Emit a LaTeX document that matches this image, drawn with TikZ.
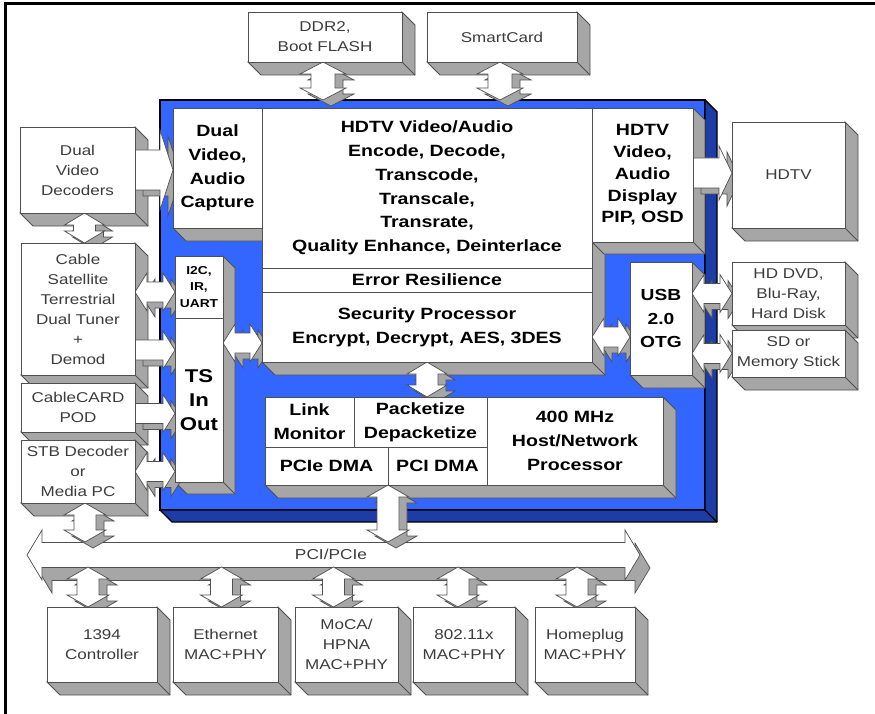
\documentclass[tikz,border=0pt]{standalone}
\usepackage{fontspec}
\setmainfont{Liberation Sans}[FakeStretch=1.2]
\usetikzlibrary{calc}

\definecolor{chipblue}{RGB}{51,102,255}
\definecolor{chipdark}{RGB}{30,60,165}
\definecolor{sidegray}{RGB}{166,166,166}
\definecolor{edgegray}{RGB}{80,80,80}
\definecolor{txtgray}{RGB}{60,60,60}

\pgfdeclarelayer{chipl}
\pgfdeclarelayer{extrl}
\pgfdeclarelayer{arrl}
\pgfsetlayers{chipl,extrl,arrl,main}

% depth faces of a block: [style]{NE corner}{SW corner}{depth}
\newcommand\extrude[4][side]{%
  \filldraw[#1] (#2) -- ++(#4,#4) -- ($(#2 |- #3)+(#4,#4)$) -- ($(#3)+(#4,#4)$)
    -- (#3) -- (#2 |- #3) -- cycle;
  \draw[#1, fill=none] (#2 |- #3) -- ++(#4,#4);}

% block arrows (canvas dimensions, y up)
\newcommand\arrhead{12pt}
\newcommand\sdx{8pt}
\newcommand\sdy{6pt}
\newcommand\vdpoly[5]{({#1},{#2}) -- ({#1+#4},{#2-\arrhead}) -- ({#1+#5},{#2-\arrhead})
  -- ({#1+#5},{#3+\arrhead}) -- ({#1+#4},{#3+\arrhead}) -- ({#1},{#3})
  -- ({#1-#4},{#3+\arrhead}) -- ({#1-#5},{#3+\arrhead}) -- ({#1-#5},{#2-\arrhead})
  -- ({#1-#4},{#2-\arrhead}) -- cycle}
\newcommand\hdpoly[5]{({#1},{#3}) -- ({#1+\arrhead},{#3+#4}) -- ({#1+\arrhead},{#3+#5})
  -- ({#2-\arrhead},{#3+#5}) -- ({#2-\arrhead},{#3+#4}) -- ({#2},{#3})
  -- ({#2-\arrhead},{#3-#4}) -- ({#2-\arrhead},{#3-#5}) -- ({#1+\arrhead},{#3-#5})
  -- ({#1+\arrhead},{#3-#4}) -- cycle}
\newcommand\hrpoly[5]{({#1},{#3+#5}) -- ({#2-\arrhead},{#3+#5}) -- ({#2-\arrhead},{#3+#4})
  -- ({#2},{#3}) -- ({#2-\arrhead},{#3-#4}) -- ({#2-\arrhead},{#3-#5}) -- ({#1},{#3-#5}) -- cycle}
% [x shift]{upper end}{lower end}{head half width}{shaft half width}
\newcommand\vdarr[5][0pt]{%
  \path[arrback] let \p1=#2, \p2=#3 in \vdpoly{\x1+(#1)+\sdx}{\y1-\sdy}{\y2-\sdy}{#4}{#5};
  \path[arrfront] let \p1=#2, \p2=#3 in \vdpoly{\x1+(#1)}{\y1}{\y2}{#4}{#5};}
% [y shift down]{left end}{right end}{head half width}{shaft half width}
\newcommand\hdarr[5][0pt]{%
  \path[arrback] let \p1=#2, \p2=#3 in \hdpoly{\x1+\sdx}{\x2+\sdx}{\y1-(#1)-\sdy}{#4}{#5};
  \path[arrfront] let \p1=#2, \p2=#3 in \hdpoly{\x1}{\x2}{\y1-(#1)}{#4}{#5};}
\newcommand\hrarr[5][0pt]{%
  \path[arrback] let \p1=#2, \p2=#3 in \hrpoly{\x1+\sdx}{\x2+\sdx}{\y1-(#1)-\sdy}{#4}{#5};
  \path[arrfront] let \p1=#2, \p2=#3 in \hrpoly{\x1}{\x2}{\y1-(#1)}{#4}{#5};}

\begin{document}
\begin{tikzpicture}[x=1pt, y=-1pt,
    blockat/.style args={#1/#2/#3/#4}{at={({(#1+#3)/2},{(#2+#4)/2})},
      minimum width={(#3-#1)*1pt}, minimum height={(#4-#2)*1pt}},
    ext/.style={draw=edgegray, fill=white, line width=0.8pt, inner sep=0pt,
      outer sep=0pt, align=center, text=txtgray,
      font=\fontsize{14.2}{20}\selectfont},
    blk/.style={ext, text=black, font=\bfseries\fontsize{16.3}{23.8}\selectfont},
    chip/.style={draw=black, fill=chipblue, line width=1.4pt, inner sep=0pt, outer sep=0pt},
    chipside/.style={draw=black, fill=chipdark, line width=1.4pt, line join=round},
    side/.style={draw=edgegray, fill=sidegray, line width=0.8pt},
    arrback/.style={draw=edgegray, fill=sidegray, line width=0.7pt},
    arrfront/.style={draw=edgegray, fill=white, line width=0.7pt}]
  \useasboundingbox (0,0) rectangle (875,714);
  \draw[line width=3pt] (5,714) -- (5,4) -- (875,4);

  % the chip
  \begin{pgfonlayer}{chipl}
    \node[chip, blockat=160/100/705/510] (soc) {};
    \extrude[chipside]{soc.north east}{soc.south west}{12}
  \end{pgfonlayer}

  % outside parts
  \node[ext, blockat=248/12/402/62] (ddr) {DDR2,\\Boot FLASH};
  \node[ext, blockat=427/12/577/62] (smart) {SmartCard};
  \node[ext, blockat=20/127/135/213] (dvd) {Dual\\Video\\Decoders};
  \node[ext, blockat=21/243/135/375] (tuner) {Cable\\Satellite\\Terrestrial\\Dual Tuner\\+\\Demod};
  \node[ext, blockat=21/383/135/432] (pod) {CableCARD\\POD};
  \node[ext, blockat=21/440/135/503] (stb) {STB Decoder\\or\\Media PC};
  \node[ext, blockat=732/122/845/228] (hdtv) {HDTV};
  \node[ext, blockat=732/262/845/325] (dvdr) {HD DVD,\\Blu-Ray,\\Hard Disk};
  \node[ext, blockat=732/330/845/377] (sdms) {SD or\\Memory Stick};
  \node[ext, blockat=47/607/157/682] (b1) {1394\\Controller};
  \node[ext, blockat=173/607/278/682] (b2) {Ethernet\\MAC+PHY};
  \node[ext, blockat=295/607/398/682] (b3) {MoCA/\\HPNA\\MAC+PHY};
  \node[ext, blockat=413/607/515/682] (b4) {802.11x\\MAC+PHY};
  \node[ext, blockat=535/607/635/682] (b5) {Homeplug\\MAC+PHY};

  % blocks on the chip
  \node[blk, blockat=173/108/262/228] (cap) {Dual\\Video,\\Audio\\Capture};
  \node[blk, blockat=262/108/592/268] (codec) {HDTV Video/Audio\\Encode, Decode,\\Transcode,\\Transcale,\\Transrate,\\Quality Enhance, Deinterlace};
  \node[blk, blockat=262/268/592/292] (errres) {Error Resilience};
  \node[blk, blockat=262/292/592/362] (secp) {Security Processor\\Encrypt, Decrypt, AES, 3DES};
  \node[blk, blockat=592/108/693/242, font=\bfseries\fontsize{16.3}{21.7}\selectfont] (disp) {HDTV\\Video,\\Audio\\Display\\PIP, OSD};
  \node[blk, blockat=630/262/692/375, font=\bfseries\fontsize{16}{23.3}\selectfont] (usb) {USB\\2.0\\OTG};
  \node[blk, blockat=175/256/223/318, font=\bfseries\fontsize{11.5}{16.5}\selectfont] (i2c) {I2C,\\IR,\\UART};
  \node[blk, blockat=175/318/223/482, font=\bfseries\fontsize{18.5}{24}\selectfont] (tsio) {TS\\In\\Out};
  \node[blk, blockat=265/397/354/447] (link) {Link\\Monitor};
  \node[blk, blockat=354/397/487/447] (pack) {Packetize\\Depacketize};
  \node[blk, blockat=265/447/388/485] (pcie) {PCIe DMA};
  \node[blk, blockat=388/447/487/485] (pci) {PCI DMA};
  \node[blk, blockat=487/397/663/485] (host) {400 MHz\\Host/Network\\Processor};

  \coordinate (busL) at (27,555);
  \coordinate (busR) at (640,555);
  \coordinate (busTop) at (0,542);
  \coordinate (busBot) at (0,567);
  \node[font=\fontsize{14.4}{16}\selectfont, text=txtgray] (buslbl) at (331,554) {PCI/PCIe};

  % depth of the blocks
  \begin{pgfonlayer}{extrl}
    \extrude{cap.north east}{cap.south west}{13}
    \extrude{codec.north east}{secp.south west}{13}
    \extrude{disp.north east}{disp.south west}{12}
    \extrude{usb.north east}{usb.south west}{13}
    \extrude{i2c.north east}{tsio.south west}{12}
    \extrude{host.north east}{pcie.south west}{13}
    \foreach \b in {ddr,smart,dvd,tuner,pod,stb,hdtv,dvdr,sdms,b1,b2,b3,b4,b5}
      \extrude{\b.north east}{\b.south west}{13};
  \end{pgfonlayer}

  % block arrows
  \begin{pgfonlayer}{arrl}
    {\renewcommand\sdx{10pt}\renewcommand\sdy{13pt}\renewcommand\arrhead{15pt}%
     \hdarr{(busL)}{(busR)}{25pt}{12.5pt}}
    \vdarr[-2pt]{(ddr.south)}{(ddr.south |- soc.north)}{23pt}{12pt}
    \vdarr[-2pt]{(smart.south)}{(smart.south |- soc.north)}{23pt}{12pt}
    \vdarr[7pt]{(dvd.south)}{(tuner.north)}{20pt}{11pt}
    \vdarr[7pt]{(stb.south)}{(stb.south |- busTop)}{21pt}{11pt}
    \vdarr{(pci.south west)}{(pci.south west |- busTop)}{21pt}{11pt}
    \vdarr{(secp.south)}{(secp.south |- host.north)}{20pt}{11pt}
    \foreach \b/\d in {b1/-14pt,b2/-4pt,b3/-13pt,b4/-6pt,b5/-8pt}
      \vdarr[\d]{(\b.north |- busBot)}{(\b.north)}{21pt}{11pt};
    {\renewcommand\arrhead{13pt}%
     \hrarr{(dvd.east)}{(dvd.east -| cap.west)}{40pt}{20pt}
     \hrarr[-2pt]{(disp.east)}{(disp.east -| hdtv.west)}{27pt}{15pt}}
    \hdarr[5pt]{(tuner.east |- i2c.west)}{(i2c.west)}{19pt}{10pt}
    \hrarr[41pt]{(tuner.east)}{(tuner.east -| tsio.west)}{19pt}{10pt}
    \hrarr[6pt]{(pod.east)}{(pod.east -| tsio.west)}{19pt}{10pt}
    \hdarr{(stb.east)}{(stb.east -| tsio.west)}{19pt}{10pt}
    \hdarr[16pt]{(secp.west -| tsio.east)}{(secp.west)}{19pt}{10pt}
    \hdarr[10pt]{(secp.east)}{(secp.east -| usb.west)}{19pt}{10pt}
    \hdarr{(usb.east |- dvdr.west)}{(dvdr.west)}{19pt}{10pt}
    \hdarr{(usb.east |- sdms.west)}{(sdms.west)}{19pt}{10pt}
  \end{pgfonlayer}
\end{tikzpicture}
\end{document}
